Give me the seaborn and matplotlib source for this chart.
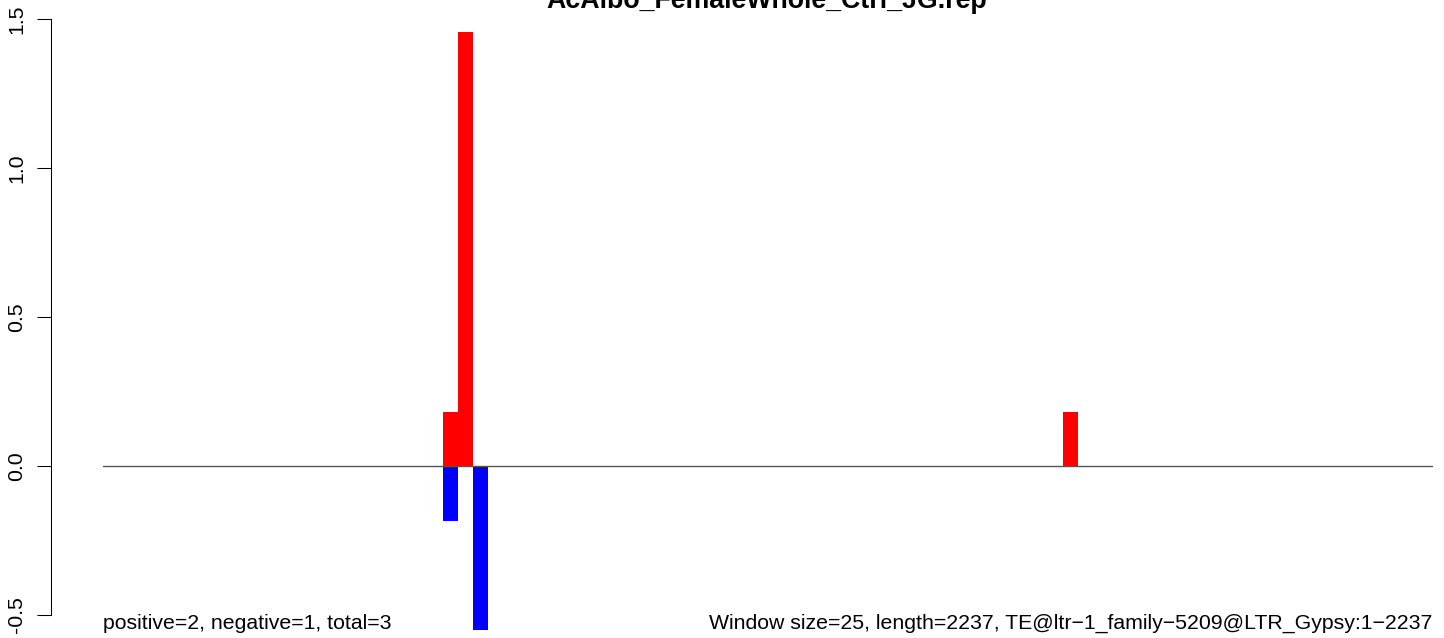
import matplotlib
matplotlib.use("Agg")
import matplotlib.pyplot as plt
import seaborn as sns
import pandas as pd

# ---- data ----
title = "AcAlbo_FemaleWhole_Ctrl_JG.rep"
te_length = 2237
window_size = 25
pos_centers = [585, 610, 1628]
pos_values = [0.182, 1.456, 0.182]
neg_centers = [585, 635]
neg_values = [-0.183, -0.550]
yticks = [-0.5, 0.0, 0.5, 1.0, 1.5]
ytick_labels = ["-0.5", "0.0", "0.5", "1.0", "1.5"]
left_note = "positive=2, negative=1, total=3"
right_note = "Window size=25, length=2237, TE@ltr\u22121_family\u22125209@LTR_Gypsy:1\u22122237"

df = pd.DataFrame({
    "pos": pos_centers + neg_centers,
    "val": pos_values + neg_values,
    "strand": ["plus"] * len(pos_centers) + ["minus"] * len(neg_centers),
})

sns.set_style("white")
plt.rcParams["font.family"] = ["Liberation Sans", "DejaVu Sans"]
plt.rcParams["text.color"] = "black"

W, H = 1444, 638
fig = plt.figure(figsize=(W / 100, H / 100), dpi=100)
ax = fig.add_axes([51 / W, 0, (W - 51) / W, 1])

sns.barplot(data=df, x="pos", y="val", hue="strand", dodge=False,
            native_scale=True, palette={"plus": "#FF0000", "minus": "#0000FF"},
            saturation=1, width=1.0, errorbar=None, legend=False, linewidth=0, ax=ax)

ax.plot([1, te_length], [0, 0], color="#555555", lw=1.0, zorder=1)

# mapping: bp 1 -> px 103.3, bp 2237 -> px 1432.3 ; y 0 -> px 466, 298 px/unit
sc = (1432.3 - 103.3) / (te_length - 1)
ax.set_xlim(1 + (51 - 103.3) / sc, 1 + (W - 103.3) / sc)
ax.set_ylim(-(H - 466) / 298, 466 / 298)

for s in ["top", "right", "bottom"]:
    ax.spines[s].set_visible(False)
ax.spines["left"].set_bounds(-0.5, 1.5)
ax.spines["left"].set_color("black")
ax.spines["left"].set_linewidth(0.75)
ax.set_xticks([])
ax.set_yticks(yticks)
ax.set_yticklabels(ytick_labels, rotation=90, va="center", fontsize=15.3, color="black")
ax.tick_params(axis="y", direction="out", length=10, width=0.75, pad=8, colors="black", left=True)
ax.set_xlabel("")
ax.set_ylabel("")
ax.patch.set_alpha(0)

ax.text(1, -(629 - 466) / 298, left_note, ha="left", va="baseline", fontsize=15.3, color="black")
ax.text(te_length, -(629 - 466) / 298, right_note, ha="right", va="baseline", fontsize=15.3, color="black")

fig.text(767 / W, 1 - 8 / H, title, ha="center", va="baseline", fontsize=19.3,
         fontweight="bold", color="black")

fig.savefig("out.png", dpi=100)
